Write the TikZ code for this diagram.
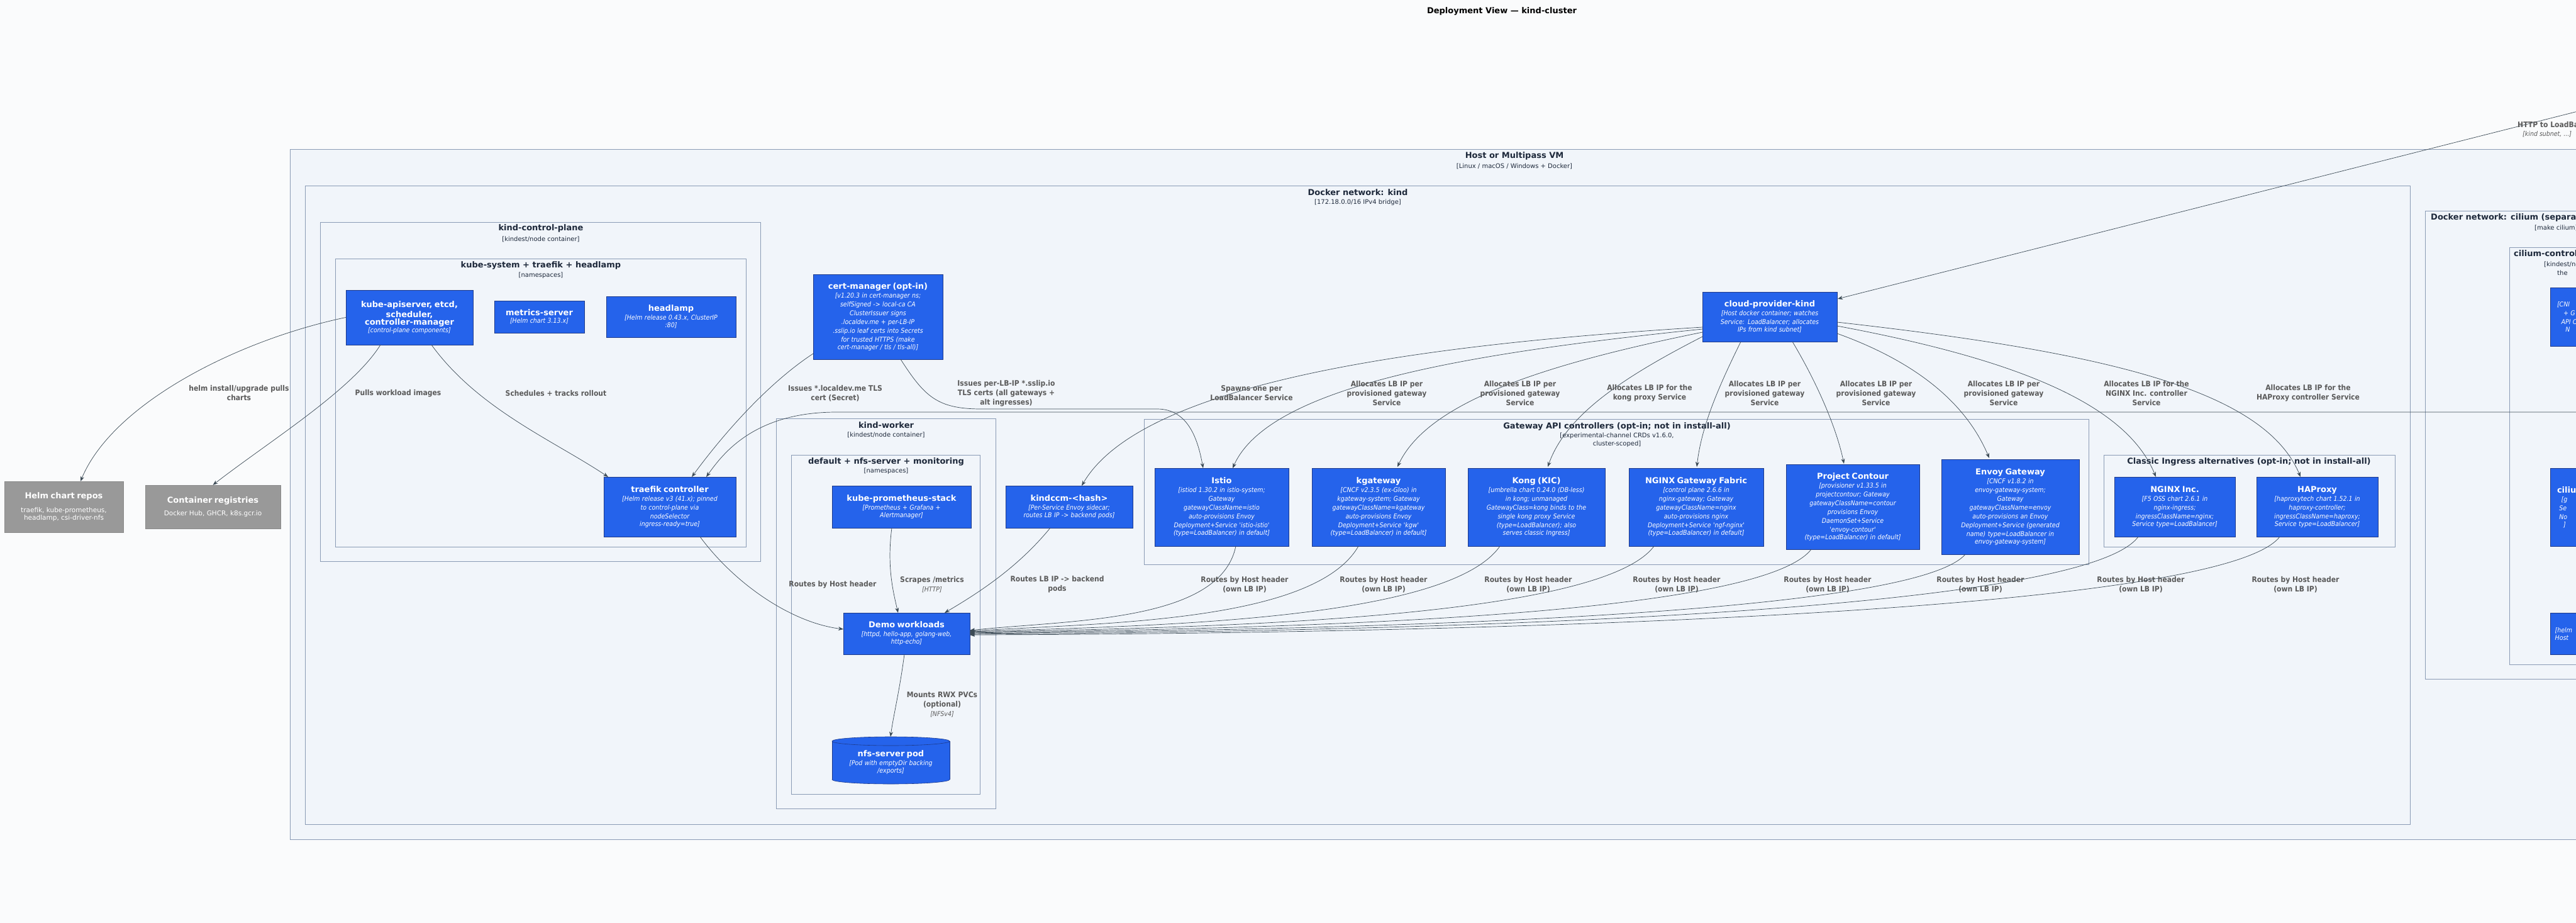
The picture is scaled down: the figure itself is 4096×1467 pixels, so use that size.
\documentclass[tikz,border=0pt]{standalone}
\usepackage{fontspec}
\setmainfont{DejaVu Sans}
\newfontfamily\condf{DejaVu Sans Condensed}
\usetikzlibrary{shapes.geometric,arrows.meta}
\definecolor{bg}{HTML}{FAFBFC}
\definecolor{bndf}{HTML}{F1F5FA}
\definecolor{bndd}{HTML}{8A9BB5}
\definecolor{bluef}{HTML}{2563EB}
\definecolor{blued}{HTML}{1E3A8A}
\definecolor{greyf}{HTML}{999999}
\definecolor{greyd}{HTML}{8A8A8A}
\definecolor{edgec}{HTML}{3B4A55}
\definecolor{labc}{HTML}{5A5A5A}
\definecolor{titc}{HTML}{1E293B}
\newcommand{\ttl}[1]{{\bfseries\fontsize{13}{16}\selectfont #1}}
\newcommand{\dsc}[1]{{\itshape\condf\fontsize{10.5}{14}\selectfont #1}}
\begin{document}
\begin{tikzpicture}[x=1pt,y=-1pt,
  bnd/.style={draw=bndd,fill=bndf,line width=0.8pt},
  btitle/.style={font=\bfseries\fontsize{13}{15}\selectfont,text=titc,inner sep=0pt},
  bsub/.style={font=\fontsize{10}{13}\selectfont,text=titc,inner sep=0pt,align=center},
  blue/.style={draw=blued,fill=bluef,text=white,align=center,inner sep=2pt,line width=0.6pt},
  grey/.style={draw=greyd,fill=greyf,text=white,align=center,inner sep=2pt},
  e/.style={draw=edgec,line width=0.7pt,-{Stealth[length=8pt,width=6pt]}},
  lab/.style={font=\condf\bfseries\fontsize{12}{15}\selectfont,text=labc,align=center,inner sep=0pt}]
\useasboundingbox (0,0) rectangle (4096,1467);
\clip (0,0) rectangle (4096,1467);
\fill[bg] (0,0) rectangle (4096,1467);
\node[font=\bfseries\fontsize{13}{15}\selectfont,text=black] (title) at (2388,18) {Deployment View — kind-cluster};

% boundaries
\draw[bnd] (461,237) rectangle (4300,1334);
\node[btitle] (hostT) at (2408,248) {Host or Multipass VM};
\node[bsub] (hostS) at (2408,264) {[Linux / macOS / Windows + Docker]};
\draw[bnd] (485,295) rectangle (3832,1310);
\node[btitle] (kindT) at (2159,306) {Docker network: kind};
\node[bsub] (kindS) at (2159,322) {[172.18.0.0/16 IPv4 bridge]};
\draw[bnd] (3856,335) rectangle (4300,1079);
\node[btitle,anchor=west] (cilT) at (3865,346) {Docker network: cilium (separate)};
\node[bsub,anchor=west] (cilS) at (4030,362) {[make cilium]};
\draw[bnd] (3990,393) rectangle (4300,1056);
\node[btitle,anchor=west] (ccpT) at (3997,404) {cilium-control-plane};
\node[bsub,anchor=west] (ccpS) at (4045,420) {[kindest/node container;};
\node[bsub,anchor=west] (ccpS2) at (4066,434) {the};
\draw[bnd] (509,353) rectangle (1209,892);
\node[btitle] (cpT) at (860,363) {kind-control-plane};
\node[bsub] (cpS) at (860,380) {[kindest/node container]};
\draw[bnd] (533,411) rectangle (1186,869);
\node[btitle] (ksT) at (860,422) {kube-system + traefik + headlamp};
\node[bsub] (ksS) at (860,438) {[namespaces]};
\draw[bnd] (1234,665) rectangle (1583,1285);
\node[btitle] (kwT) at (1409,676) {kind-worker};
\node[bsub] (kwS) at (1409,691) {[kindest/node container]};
\draw[bnd] (1258,723) rectangle (1558,1262);
\node[btitle] (dfT) at (1409,734) {default + nfs-server + monitoring};
\node[bsub] (dfS) at (1409,749) {[namespaces]};
\draw[bnd] (1819,666) rectangle (3321,897);
\node[btitle] (gwT) at (2571,678) {Gateway API controllers (opt-in; not in install-all)};
\node[bsub,anchor=north] (gwS) at (2571,688) {[experimental-channel CRDs v1.6.0,\\ cluster-scoped]};
\draw[bnd] (3345,723) rectangle (3808,869);
\node[btitle] (clT) at (3576,734) {Classic Ingress alternatives (opt-in; not in install-all)};

% nodes
\node[grey,minimum width=189,minimum height=81,text width=181] (helm) at (101.5,805.5) {\ttl{Helm chart repos}\\[8pt]{\fontsize{10.5}{14}\selectfont traefik, kube-prometheus,\\ headlamp, csi-driver-nfs}};
\node[grey,minimum width=215,minimum height=69,text width=207] (reg) at (338.5,805.5) {\ttl{Container registries}\\[8pt]{\fontsize{10.5}{14}\selectfont Docker Hub, GHCR, k8s.gcr.io}};
\node[blue,minimum width=202,minimum height=87,text width=194] (api) at (651,504.5) {\ttl{kube-apiserver, etcd,\\ scheduler,\\ controller-manager}\\ \dsc{[control-plane components]}};
\node[blue,minimum width=143,minimum height=51,text width=135] (ms) at (857.5,503.5) {\ttl{metrics-server}\\ \dsc{[Helm chart 3.13.x]}};
\node[blue,minimum width=206,minimum height=65,text width=198] (hl) at (1067,503.5) {\ttl{headlamp}\\ \dsc{[Helm release 0.43.x, ClusterIP\\ :80]}};
\node[blue,minimum width=210,minimum height=95,text width=202] (tr) at (1065,805.5) {\ttl{traefik controller}\\ \dsc{[Helm release v3 (41.x); pinned\\ to control-plane via\\ nodeSelector\\ ingress-ready=true]}};
\node[blue,minimum width=206,minimum height=135,text width=200] (cm) at (1396,503.5) {\ttl{cert-manager (opt-in)}\\ \dsc{[v1.20.3 in cert-manager ns;\\ selfSigned -> local-ca CA\\ ClusterIssuer signs\\ *.localdev.me + per-LB-IP\\ *.sslip.io leaf certs into Secrets\\ for trusted HTTPS (make\\ cert-manager / tls / tls-all)]}};
\node[blue,minimum width=221,minimum height=67,text width=213] (prom) at (1433.5,805.5) {\ttl{kube-prometheus-stack}\\ \dsc{[Prometheus + Grafana +\\ Alertmanager]}};
\node[blue,minimum width=201,minimum height=66,text width=193] (demo) at (1441.5,1007) {\ttl{Demo workloads}\\ \dsc{[httpd, hello-app, golang-web,\\ http-echo]}};
% cylinder drawn manually
\draw[blued,fill=bluef,line width=0.6pt] (1416.5,1239) ellipse [x radius=93.5,y radius=7];
\fill[bluef] (1323,1178) rectangle (1510,1239);
\draw[blued,line width=0.6pt] (1323,1178) -- (1323,1239) (1510,1178) -- (1510,1239);
\draw[blued,fill=bluef,line width=0.6pt] (1416.5,1178) ellipse [x radius=93.5,y radius=7];
\node[text=white,align=center,inner sep=0pt,text width=185] (nfs) at (1416.5,1212) {\ttl{nfs-server pod}\\ \dsc{[Pod with emptyDir backing\\ /exports]}};
\node[blue,minimum width=202,minimum height=67,text width=194] (ccm) at (1700,805.5) {\ttl{kindccm-<hash>}\\ \dsc{[Per-Service Envoy sidecar;\\ routes LB IP -> backend pods]}};
\node[blue,minimum width=213,minimum height=124,text width=205] (istio) at (1942.5,806) {\ttl{Istio}\\ \dsc{[istiod 1.30.2 in istio-system;\\ Gateway\\ gatewayClassName=istio\\ auto-provisions Envoy\\ Deployment+Service 'istio-istio'\\ (type=LoadBalancer) in default]}};
\node[blue,minimum width=212,minimum height=124,text width=204] (kgw) at (2192,806) {\ttl{kgateway}\\ \dsc{[CNCF v2.3.5 (ex-Gloo) in\\ kgateway-system; Gateway\\ gatewayClassName=kgateway\\ auto-provisions Envoy\\ Deployment+Service 'kgw'\\ (type=LoadBalancer) in default]}};
\node[blue,minimum width=218,minimum height=124,text width=210] (kong) at (2443,806) {\ttl{Kong (KIC)}\\ \dsc{[umbrella chart 0.24.0 (DB-less)\\ in kong; unmanaged\\ GatewayClass=kong binds to the\\ single kong proxy Service\\ (type=LoadBalancer); also\\ serves classic Ingress]}};
\node[blue,minimum width=214,minimum height=124,text width=206] (ngf) at (2697,806) {\ttl{NGINX Gateway Fabric}\\ \dsc{[control plane 2.6.6 in\\ nginx-gateway; Gateway\\ gatewayClassName=nginx\\ auto-provisions nginx\\ Deployment+Service 'ngf-nginx'\\ (type=LoadBalancer) in default]}};
\node[blue,minimum width=212,minimum height=135,text width=204] (ctr) at (2946,805.5) {\ttl{Project Contour}\\ \dsc{[provisioner v1.33.5 in\\ projectcontour; Gateway\\ gatewayClassName=contour\\ provisions Envoy\\ DaemonSet+Service\\ 'envoy-contour'\\ (type=LoadBalancer) in default]}};
\node[blue,minimum width=219,minimum height=151,text width=211] (env) at (3196.5,805.5) {\ttl{Envoy Gateway}\\ \dsc{[CNCF v1.8.2 in\\ envoy-gateway-system;\\ Gateway\\ gatewayClassName=envoy\\ auto-provisions an Envoy\\ Deployment+Service (generated\\ name) type=LoadBalancer in\\ envoy-gateway-system]}};
\node[blue,minimum width=192,minimum height=95,text width=184] (ngi) at (3458,805.5) {\ttl{NGINX Inc.}\\ \dsc{[F5 OSS chart 2.6.1 in\\ nginx-ingress;\\ ingressClassName=nginx;\\ Service type=LoadBalancer]}};
\node[blue,minimum width=193,minimum height=95,text width=185] (hap) at (3684.5,805.5) {\ttl{HAProxy}\\ \dsc{[haproxytech chart 1.52.1 in\\ haproxy-controller;\\ ingressClassName=haproxy;\\ Service type=LoadBalancer]}};
\node[blue,minimum width=214,minimum height=79,text width=206] (cpk) at (2814,503.5) {\ttl{cloud-provider-kind}\\ \dsc{[Host docker container; watches\\ Service: LoadBalancer; allocates\\ IPs from kind subnet]}};
% cilium nodes (clipped)
\node[blue,anchor=north west,minimum width=245,minimum height=93,text width=237,align=left] (cil1) at (4055,457) {\dsc{\ \ [CNI\\ \ \ \ \ \ + G\\ \ \ \ \ API C\\ \ \ \ \ \ \ N}};
\node[blue,anchor=north west,minimum width=245,minimum height=124,text width=237,align=left] (cil2) at (4055,744) {\ttl{\ \ ciliu}\\ \dsc{\ \ \ \ [g\\ \ \ \ Se\\ \ \ \ No\\ \ \ \ \ \ ]}};
\node[blue,anchor=north west,minimum width=245,minimum height=66,text width=237,align=left] (cil3) at (4055,974) {\dsc{\ [helm\\ \ Host}};

\coordinate (offH) at (4300,126);
\coordinate (offR) at (4300,655);

% edges
\draw[e] (api.west) .. controls (380,540) and (180,640) .. (128,765);
\node[lab] (l1) at (380,625) {helm install/upgrade pulls\\ charts};
\draw[e] (605,548) .. controls (560,620) and (430,700) .. (reg.north);
\node[lab] (l2) at (633,625) {Pulls workload images};
\draw[e] (686,548) .. controls (760,650) and (880,700) .. (967,758);
\node[lab] (l3) at (884,625) {Schedules + tracks rollout};
\draw[e] (1293,562) .. controls (1220,610) and (1150,690) .. (1100,758);
\node[lab] (l4) at (1328,625) {Issues *.localdev.me TLS\\ cert (Secret)};
\draw[e] (1432,571) .. controls (1470,630) and (1490,650) .. (1560,650) -- (1840,650) .. controls (1890,650) and (1905,700) .. (1913,744);
\node[lab] (l5) at (1600,625) {Issues per-LB-IP *.sslip.io\\ TLS certs (all gateways +\\ alt ingresses)};
\draw[e] (offR) -- (1330,655) .. controls (1200,655) and (1150,720) .. (1123,758);
\draw[e] (offH) -- (2922,475);
\node[font=\condf\bfseries\fontsize{12}{15}\selectfont,text=labc,anchor=west,inner sep=0pt] (lh) at (4003,198) {HTTP to LoadBalancer IPs};
\node[font=\condf\itshape\fontsize{10.5}{13}\selectfont,text=labc,anchor=west,inner sep=0pt] (lh2) at (4011,213) {[kind subnet, ...]};

\draw[e] (1113,853) .. controls (1170,930) and (1260,990) .. (1341,1000);
\node[lab] (l6) at (1324,929) {Routes by Host header};
\draw[e] (1418,839) .. controls (1410,900) and (1420,940) .. (1428,974);
\node[lab] (l7) at (1482,922) {Scrapes /metrics};
\node[font=\condf\itshape\fontsize{10.5}{13}\selectfont,text=labc,inner sep=0pt] (l7b) at (1482,937) {[HTTP]};
\draw[e] (1670,839) .. controls (1620,900) and (1560,940) .. (1502,974);
\node[lab] (l8) at (1681,929) {Routes LB IP -> backend\\ pods};
\draw[e] (1438,1040) .. controls (1430,1100) and (1420,1140) .. (1416,1171);
\node[lab,text width=140] (l9) at (1498,1120) {Mounts RWX PVCs\\ (optional)\\ {\mdseries\itshape\fontsize{10.5}{13}\selectfont [NFSv4]}};

% cloud-provider-kind
\draw[e] (2707,520) .. controls (2300,545) and (1820,600) .. (1720,772);
\node[lab] (c0) at (1990,625) {Spawns one per\\ LoadBalancer Service};
\draw[e] (2707,523) .. controls (2350,560) and (2020,610) .. (1960,744);
\node[lab] (c1) at (2205,625) {Allocates LB IP per\\ provisioned gateway\\ Service};
\draw[e] (2707,528) .. controls (2450,580) and (2270,640) .. (2222,742);
\node[lab] (c2) at (2417,625) {Allocates LB IP per\\ provisioned gateway\\ Service};
\draw[e] (2707,535) .. controls (2580,600) and (2490,660) .. (2461,742);
\node[lab] (c3) at (2623,625) {Allocates LB IP for the\\ kong proxy Service};
\draw[e] (2768,543) .. controls (2730,620) and (2705,680) .. (2698,742);
\node[lab] (c4) at (2806,625) {Allocates LB IP per\\ provisioned gateway\\ Service};
\draw[e] (2850,543) .. controls (2890,610) and (2920,680) .. (2932,737);
\node[lab] (c5) at (2983,625) {Allocates LB IP per\\ provisioned gateway\\ Service};
\draw[e] (2921,530) .. controls (3060,580) and (3130,650) .. (3163,728);
\node[lab] (c6) at (3186,625) {Allocates LB IP per\\ provisioned gateway\\ Service};
\draw[e] (2921,518) .. controls (3200,570) and (3380,640) .. (3428,758);
\node[lab] (c7) at (3413,625) {Allocates LB IP for the\\ NGINX Inc. controller\\ Service};
\draw[e] (2921,512) .. controls (3350,560) and (3600,620) .. (3658,758);
\node[lab] (c8) at (3670,625) {Allocates LB IP for the\\ HAProxy controller Service};

% routes to demo
\draw[e] (1965,868) .. controls (1940,990) and (1700,985) .. (1542,1002);
\node[lab] (r1) at (1979,929) {Routes by Host header\\ (own LB IP)};
\draw[e] (2160,868) .. controls (2090,990) and (1750,990) .. (1542,1003);
\node[lab] (r2) at (2200,929) {Routes by Host header\\ (own LB IP)};
\draw[e] (2385,868) .. controls (2300,990) and (1800,995) .. (1542,1004);
\node[lab] (r3) at (2430,929) {Routes by Host header\\ (own LB IP)};
\draw[e] (2630,868) .. controls (2540,990) and (1850,998) .. (1542,1005);
\node[lab] (r4) at (2666,929) {Routes by Host header\\ (own LB IP)};
\draw[e] (2880,873) .. controls (2790,990) and (1900,1000) .. (1542,1006);
\node[lab] (r5) at (2906,929) {Routes by Host header\\ (own LB IP)};
\draw[e] (3125,881) .. controls (3030,990) and (1950,1002) .. (1542,1007);
\node[lab] (r6) at (3149,929) {Routes by Host header\\ (own LB IP)};
\draw[e] (3400,853) .. controls (3300,990) and (2000,1005) .. (1542,1008);
\node[lab] (r7) at (3404,929) {Routes by Host header\\ (own LB IP)};
\draw[e] (3625,853) .. controls (3520,990) and (2050,1008) .. (1542,1009);
\node[lab] (r8) at (3650,929) {Routes by Host header\\ (own LB IP)};
\end{tikzpicture}
\end{document}
